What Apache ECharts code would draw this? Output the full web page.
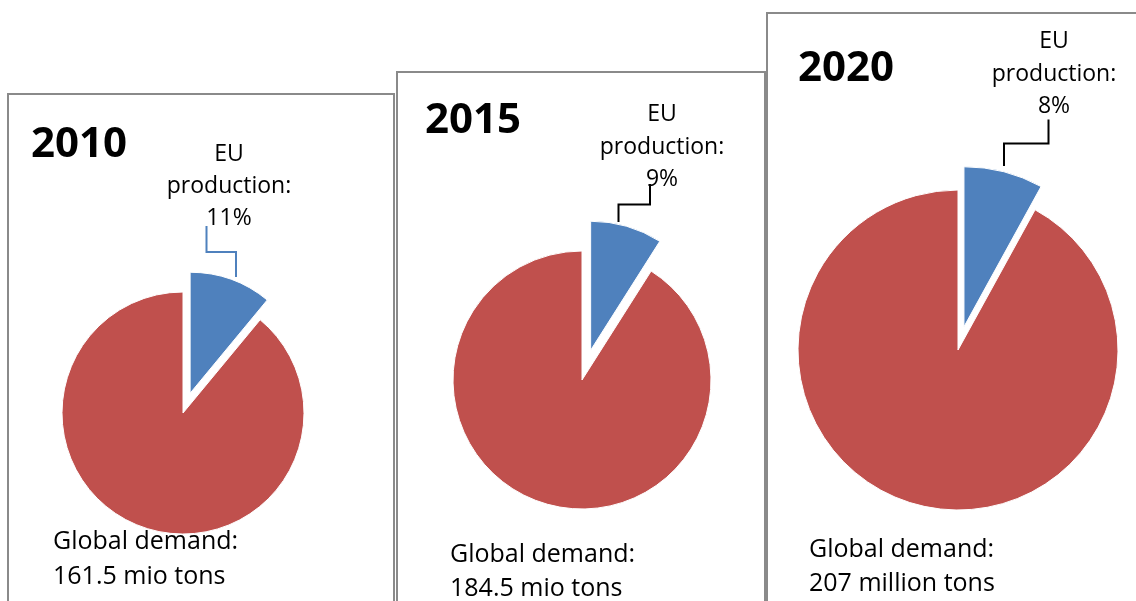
<!DOCTYPE html>
<html>
<head>
<meta charset="utf-8">
<script src="https://cdn.jsdelivr.net/npm/echarts@6/dist/echarts.min.js"></script>
<style>
  html, body { margin: 0; padding: 0; background: #ffffff; }
  #chart { width: 1136px; height: 601px; }
</style>
</head>
<body>
<div id="chart"></div>
<script>
// ---- data ----
const years = ['2010', '2015', '2020'];
const categories = ['EU production', 'Rest of global demand'];
const euShare = [11, 9, 8];                       // % of global demand
const demandLabel = 'Global demand:';
const demandValue = ['161.5', '184.5', '207'];
const demandUnit = ['mio tons', 'mio tons', 'million tons'];

// ---- layout (positions / sizes only) ----
const layout = [
  { box: [8, 94, 386, 620], center: [183, 413], r: 121, offset: 21,
    title: [31, 145], label: [229, 186], pitch: 32,
    leader: [[236, 277], [236, 252], [206.5, 252], [206.5, 226]], leaderColor: '#4F81BD',
    bottom: [53, 542, 577] },
  { box: [397, 72, 368, 640], center: [582, 380], r: 129, offset: 31,
    title: [425, 121], label: [662, 147], pitch: 32.5,
    leader: [[618.5, 222], [618.5, 204.5], [650, 204.5], [650, 184]], leaderColor: '#000000',
    bottom: [450, 555, 589] },
  { box: [767, 13, 420, 700], center: [958, 350], r: 160, offset: 24,
    title: [798, 69], label: [1054, 74], pitch: 32.25,
    leader: [[1004, 166], [1004, 143.5], [1048.5, 143.5], [1048.5, 119.5]], leaderColor: '#000000',
    bottom: [809, 550, 584] }
];

const RED = '#C0504D', BLUE = '#4F81BD';
const FONT = '"Open Sans", "Noto Sans", sans-serif';

const series = years.map((y, i) => ({
  type: 'pie',
  name: y,
  center: layout[i].center,
  radius: [0, layout[i].r],
  startAngle: 90,
  clockwise: true,
  selectedMode: 'single',
  selectedOffset: layout[i].offset,
  silent: true,
  animation: false,
  label: { show: false },
  labelLine: { show: false },
  emphasis: { disabled: true },
  itemStyle: { borderColor: '#ffffff', borderWidth: 1 },
  data: [
    { name: categories[0], value: euShare[i], selected: true, itemStyle: { color: BLUE } },
    { name: categories[1], value: 100 - euShare[i], itemStyle: { color: RED } }
  ]
}));

const elements = [];
years.forEach((y, i) => {
  const L = layout[i];
  elements.push({
    type: 'rect', z: 0,
    shape: { x: L.box[0], y: L.box[1], width: L.box[2], height: L.box[3] },
    style: { fill: '#ffffff', stroke: '#8a8a8a', lineWidth: 2 }
  });
});
years.forEach((y, i) => {
  const L = layout[i];
  elements.push({
    type: 'text', z: 100, x: L.title[0], y: L.title[1],
    style: { text: y, font: 'bold 42px ' + FONT, fill: '#000000', align: 'left', verticalAlign: 'middle' }
  });
  elements.push({
    type: 'text', z: 100, x: L.label[0], y: L.label[1],
    style: { text: 'EU\nproduction:\n' + euShare[i] + '%', font: '23px ' + FONT, lineHeight: L.pitch,
             fill: '#000000', align: 'center', verticalAlign: 'middle' }
  });
  elements.push({
    type: 'polyline', z: 100,
    shape: { points: L.leader },
    style: { stroke: L.leaderColor, lineWidth: 2, fill: null }
  });
  elements.push({
    type: 'text', z: 100, x: L.bottom[0], y: L.bottom[1],
    style: { text: demandLabel, font: '25px ' + FONT, fill: '#000000', align: 'left', verticalAlign: 'middle' }
  });
  elements.push({
    type: 'text', z: 100, x: L.bottom[0], y: L.bottom[2],
    style: { text: demandValue[i] + ' ' + demandUnit[i], font: '25px ' + FONT, fill: '#000000', align: 'left', verticalAlign: 'middle' }
  });
});

const chart = echarts.init(document.getElementById('chart'), null, { renderer: 'canvas' });
chart.setOption({
  backgroundColor: '#ffffff',
  animation: false,
  tooltip: { show: false },
  graphic: { elements: elements },
  series: series
});
</script>
</body>
</html>
